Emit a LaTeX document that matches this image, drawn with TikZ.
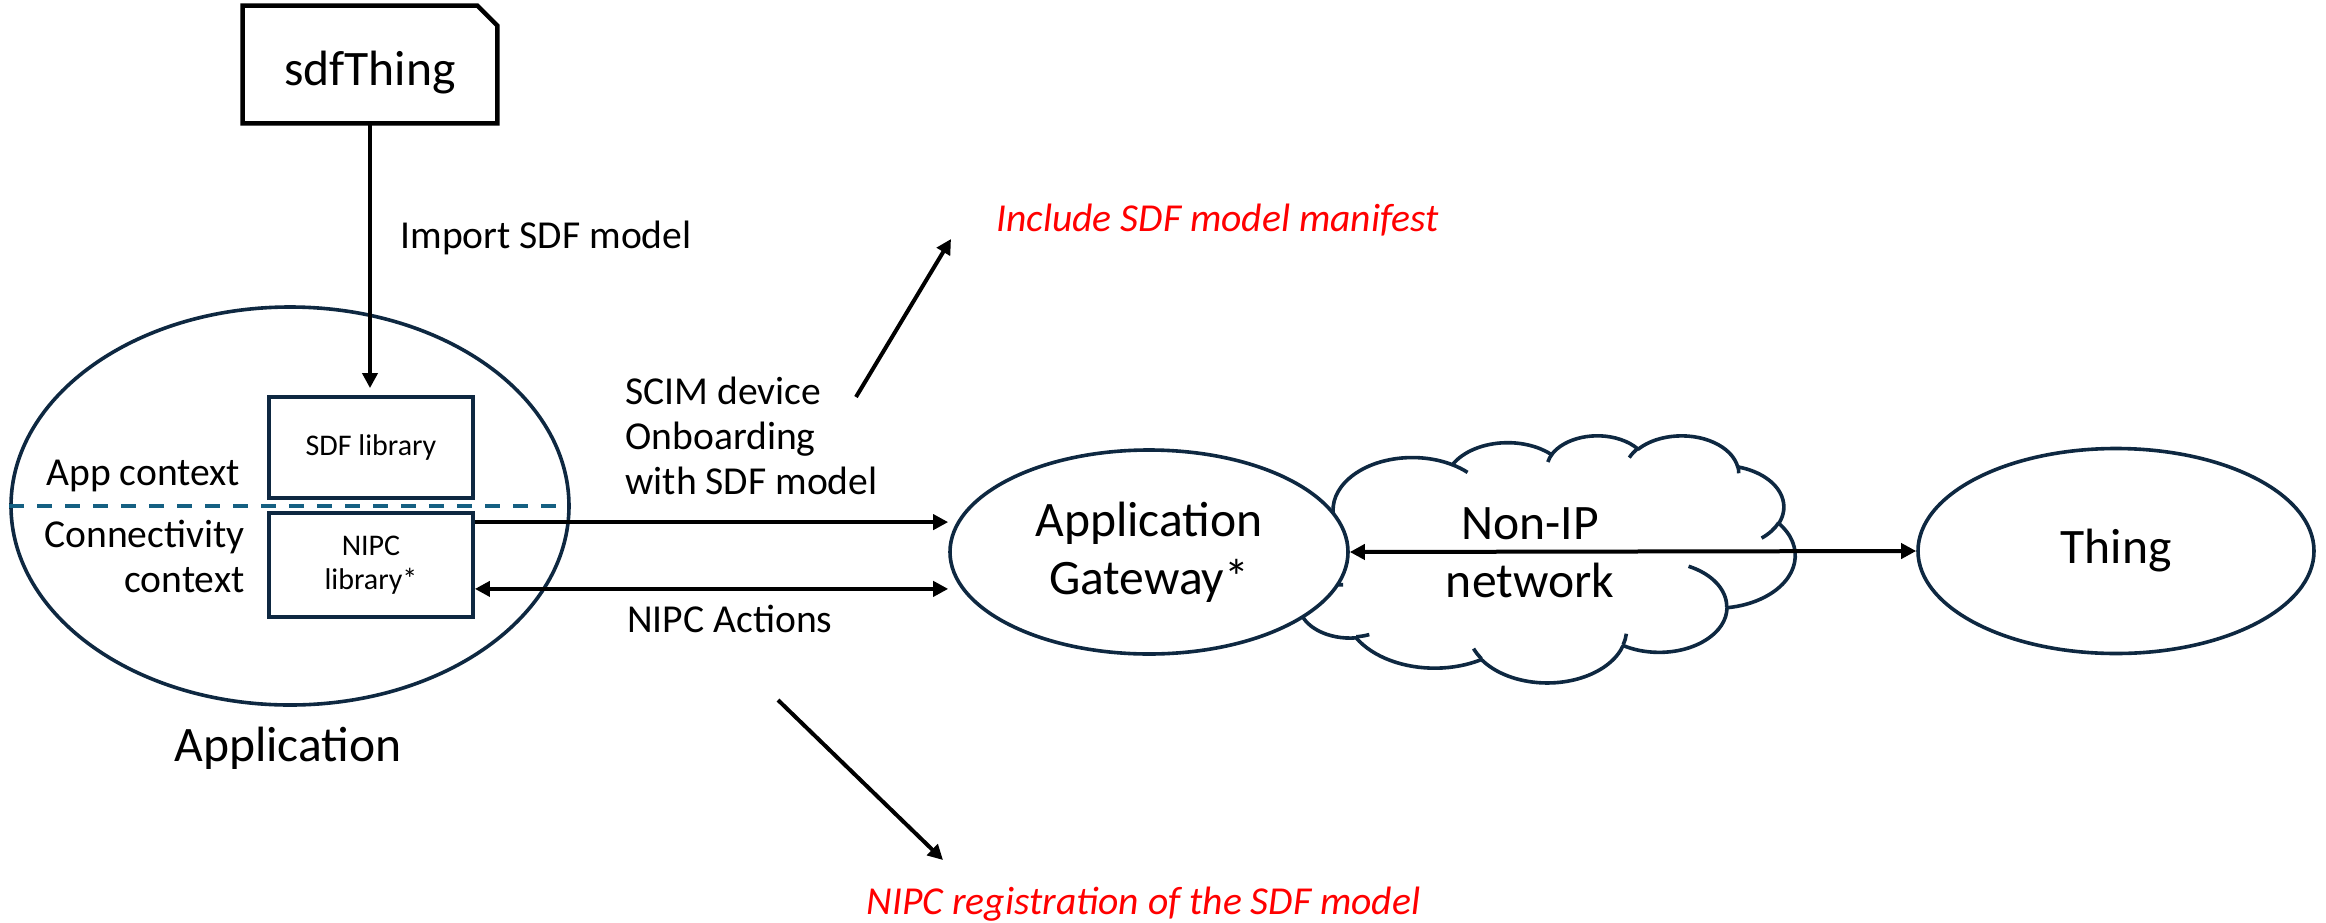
\documentclass[tikz,border=0pt]{standalone}
\usepackage{fontspec}
\setmainfont{Carlito}
\usetikzlibrary{arrows.meta,calc,shapes.geometric}
\definecolor{navy}{HTML}{0E2841}
\definecolor{dashblue}{HTML}{156082}
\definecolor{annred}{HTML}{FF0000}

% elliptical arc with OOXML-style (visual) angles
\newcommand\cldarc[4]{%
  \pgfmathparse{atan2((#1)*sin(#3),(#2)*cos(#3))}\global\let\cldA\pgfmathresult
  \pgfmathparse{atan2((#1)*sin((#3)+(#4)),(#2)*cos((#3)+(#4)))}\global\let\cldBr\pgfmathresult
  \pgfmathparse{(\cldBr)+360*round(((\cldA)+(#4)-(\cldBr))/360)}\global\let\cldB\pgfmathresult
}
\def\carc#1#2#3#4{\pgfextra{\cldarc{#1}{#2}{#3}{#4}} arc[start angle=\cldA, end angle=\cldB, x radius=#1, y radius=#2]}

\tikzset{
  outl/.style={draw=navy, line width=1.8pt},
  libbox/.style={outl, line width=1.9pt, minimum width=102pt, minimum height=50.5pt, inner sep=0pt,
    font=\fontsize{15}{17}\selectfont, align=center},
  ell/.style={ellipse, outl, fill=white, inner sep=0pt, font=\fontsize{24.8}{29}\selectfont, align=center},
  body/.style={font=\fontsize{19.8}{22.5}\selectfont, inner sep=0pt},
  big/.style={font=\fontsize{24.8}{29}\selectfont, inner sep=0pt},
  ann/.style={font=\fontsize{19.8}{22.5}\selectfont\itshape, text=annred, inner sep=0pt},
  conn/.style={line width=2pt, -{Triangle[length=7.5pt,width=7.5pt]}},
  conntwo/.style={line width=2pt, {Triangle[length=7.5pt,width=7.5pt]}-{Triangle[length=7.5pt,width=7.5pt]}},
}

\begin{document}
\begin{tikzpicture}[x=0.5pt,y=-0.5pt]
\useasboundingbox (0,0) rectangle (2326,922);

% sdfThing (snipped corner box)
\node[big, minimum width=127pt, minimum height=58.5pt, text height=20.5pt, text depth=0pt] (sdf) at (370,64.5) {sdfThing};
\draw[black, line width=2.2pt, line join=miter] (sdf.south west) -- (sdf.north west) -- ([xshift=-10pt]sdf.north east)
  -- ([yshift=-10pt]sdf.north east) -- (sdf.south east) -- cycle;

% Application ellipse
\node[ell, minimum width=279pt, minimum height=199pt] (app) at (290,506) {};
\draw[dashblue, line width=1.8pt, dash pattern=on 7.5pt off 6.5pt] (app.west) -- ([xshift=-4pt]app.east);

\node[libbox] (sdflib) at (371,447.5) {SDF library};
\node[libbox, minimum height=52pt] (nipc) at (371,565) {NIPC\\library*};

\node[body, anchor=base west] (appctx) at (46,485) {App context};
\node[body, anchor=north east, align=right] (connctx) at (245,520) {Connectivity\\context};
\node[big, anchor=base] (applbl) at (288,761) {Application};

% cloud (Non-IP network)
\begin{scope}[shift={(1288,435)}, x=0.0586806pt, y=-0.028588pt]
\draw[outl, line join=round, fill=white] (390,1437)
  \carc{675.3}{919.0}{-190.4875}{123.7805}
  \carc{533.3}{726.7}{-144.1024}{89.9452}
  \carc{436.5}{594.5}{-145.8079}{99.7230}
  \carc{485.7}{659.5}{-130.9861}{117.2417}
  \carc{533.3}{727.3}{-78.7089}{109.0269}
  \carc{677.5}{922.0}{-46.2673}{130.2690}
  \carc{578.5}{786.7}{0.6250}{114.0333}
  \carc{675.2}{921.5}{22.4516}{115.1726}
  \carc{772.0}{1054.3}{66.2426}{75.7110}
  \carc{436.0}{591.8}{-274.9421}{146.7356}
  \carc{434.5}{594.5}{-246.8285}{152.5189}
  -- cycle;
\draw[outl] (469.3,2617.7) \carc{434.5}{594.5}{86.7420}{26.4295};
\draw[outl] (692.8,3489.9) \carc{436.0}{591.8}{73.6105}{11.4475};
\draw[outl] (1647.8,3909.0) \carc{675.2}{921.5}{137.6242}{14.0811};
\draw[outl] (2882.7,3475.1) \carc{675.2}{921.5}{6.4533}{15.9984};
\draw[outl] (3412.9,2295.4) \carc{578.5}{786.7}{-70.2924}{70.9174};
\draw[outl] (4179.8,1535.4) \carc{533.3}{727.3}{30.3180}{27.7515};
\draw[outl] (3832.4,542.6) \carc{485.7}{659.5}{-13.7443}{14.8589};
\draw[outl] (2907.8,395.2) \carc{485.7}{659.5}{-149.1815}{18.1954};
\draw[outl] (2214.1,472.0) \carc{436.5}{594.5}{-163.4943}{17.6864};
\draw[outl] (1400.0,519.2) \carc{675.3}{919.0}{-66.7070}{12.3194};
\draw[outl] (412.7,1578.9) \carc{675.3}{919.0}{157.6544}{11.8582};
\end{scope}
\node[big, align=center] (net) at (1530,553) {Non-IP\\network};

\node[ell, minimum width=199pt, minimum height=102pt] (gw) at (1149,552) {Application\\Gateway*};
\node[ell, minimum width=198pt, minimum height=102.5pt] (thing) at (2116,551) {Thing};

% labels
\node[body, anchor=base west] (imp) at (400,248) {Import SDF model};
\node[body, anchor=north west, align=left] (scim) at (625,377) {SCIM device\\Onboarding\\with SDF model};
\node[body, anchor=base west] (act) at (627,632) {NIPC Actions};
\node[ann, anchor=base west] (incl) at (996,231) {Include SDF model manifest};
\node[ann, anchor=base] (reg) at (1143.5,914) {NIPC registration of the SDF model};

% connectors
\draw[conn, line width=2.2pt] (sdf.south) -- ([yshift=3.5pt]sdf.south |- sdflib.north);
\draw[conn] ($(nipc.north east)+(0,11)$) -- ($(gw.west |- nipc.north east)+(0,11)$);
\draw[conntwo] ($(nipc.south east)+(0,-30)$) -- ($(gw.west |- nipc.south east)+(0,-30)$);
\draw[conntwo] (gw.east) -- (thing.west);

\coordinate (up0) at (856,397);
\coordinate (up1) at (951,239);
\coordinate (dn0) at (778,700);
\coordinate (dn1) at (943,860);
\draw[conn] (up0) -- (up1);
\draw[conn] (dn0) -- (dn1);
\end{tikzpicture}
\end{document}
